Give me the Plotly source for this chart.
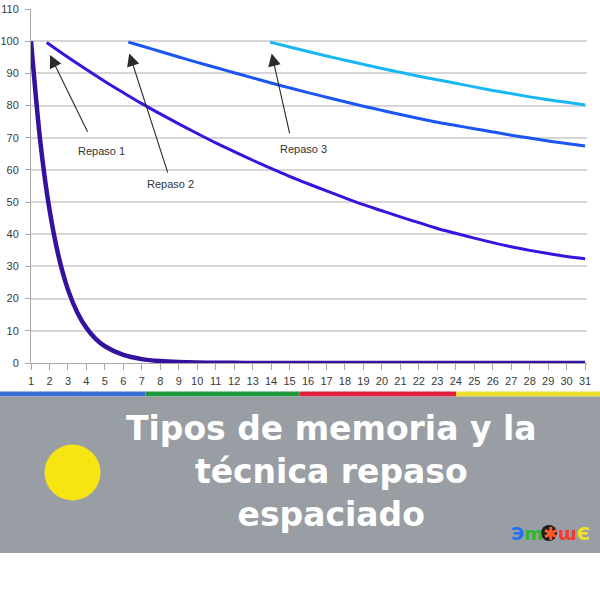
import plotly.graph_objects as go

# ---- data ----
x_base = [1, 1.5, 2, 2.5, 3, 3.5, 4, 4.5, 5, 6, 7, 8, 9, 10, 11, 12, 13, 14, 15, 16,
          17, 18, 19, 20, 21, 22, 23, 24, 25, 26, 27, 28, 29, 30, 31]
y_base = [100, 69, 47.7, 33, 22.8, 15.8, 10.9, 7.5, 5.2, 2.5, 1.2, 0.6, 0.3, 0.15, 0.08,
          0.04, 0.02, 0, 0, 0, 0, 0, 0, 0, 0, 0, 0, 0, 0, 0, 0, 0, 0, 0, 0]

x_rep1 = [1.85, 3, 4, 5, 6, 7, 8, 9, 10, 11, 12, 13, 14, 15, 16, 17, 18, 19, 20, 21,
          22, 23, 24, 25, 26, 27, 28, 29, 30, 31]
y_rep1 = [99.6, 95.0, 91.2, 87.5, 84.0, 80.6, 77.4, 74.3, 71.3, 68.4, 65.7, 63.0, 60.5,
          58.0, 55.7, 53.5, 51.3, 49.2, 47.3, 45.4, 43.6, 41.8, 40.3, 38.8, 37.4, 36.1,
          35.0, 34.0, 33.1, 32.4]

x_rep2 = [6.27, 7, 8, 9, 10, 11, 12, 13, 14, 15, 16, 17, 18, 19, 20, 21, 22, 23, 24,
          25, 26, 27, 28, 29, 30, 31]
y_rep2 = [99.7, 98.5, 96.8, 95.1, 93.4, 91.8, 90.2, 88.6, 87.0, 85.5, 84.0, 82.6, 81.2,
          79.8, 78.5, 77.2, 76.0, 74.8, 73.8, 72.8, 71.8, 70.8, 69.9, 69.0, 68.2, 67.4]

x_rep3 = [13.94, 15, 16, 17, 18, 19, 20, 21, 22, 23, 24, 25, 26, 27, 28, 29, 30, 31]
y_rep3 = [99.7, 98.2, 96.8, 95.4, 94.1, 92.8, 91.5, 90.3, 89.1, 88.0, 86.9, 85.8, 84.7,
          83.7, 82.7, 81.8, 81.0, 80.2]

x_ticks = list(range(1, 32))
y_ticks = list(range(0, 111, 10))

labels = ["Repaso 1", "Repaso 2", "Repaso 3"]
label_pos = [(4.83, 66.0), (8.53, 55.6), (15.74, 66.4)]
arrow_tail = [(4.1, 71.4), (8.43, 58.7), (15.02, 70.9)]
arrow_tip = [(2.03, 95.7), (6.32, 96.2), (14.03, 96.2)]

title_lines = ["Tipos de memoria y la", "técnica repaso", "espaciado"]
band_colors = ["#3a6ed6", "#1f9a3c", "#e2203e", "#efe030"]

# ---- layout helpers (pixel -> paper) ----
PX_L, PX_R, PX_T, PX_B = 31, 587, 9, 363
def xp(px):
    return (px - PX_L) / (PX_R - PX_L)
def yp(py):
    return (PX_B - py) / (PX_B - PX_T)

fig = go.Figure()
fig.add_trace(go.Scatter(x=x_base, y=y_base, mode="lines",
                         line=dict(color="#34119e", width=4.5, shape="spline", smoothing=0.8)))
fig.add_trace(go.Scatter(x=x_rep1, y=y_rep1, mode="lines",
                         line=dict(color="#3a12e0", width=3, shape="spline")))
fig.add_trace(go.Scatter(x=x_rep2, y=y_rep2, mode="lines",
                         line=dict(color="#1b55f3", width=3, shape="spline")))
fig.add_trace(go.Scatter(x=x_rep3, y=y_rep3, mode="lines",
                         line=dict(color="#19b6f5", width=3, shape="spline")))

tickfont = dict(family="Liberation Sans, Arial, sans-serif", size=11, color="#3a3a3a")
fig.update_xaxes(range=[1, 1 + (PX_R - PX_L) / 18.47], tickvals=x_ticks,
                 ticktext=[str(v) for v in x_ticks], showgrid=False, zeroline=False,
                 showline=True, linecolor="#a8a8a8", linewidth=1,
                 ticks="outside", ticklen=6, tickcolor="#a8a8a8", tickfont=tickfont,
                 ticklabelstandoff=2, automargin=False, fixedrange=True)
fig.update_yaxes(range=[0, 110], tickvals=y_ticks, showgrid=True, gridcolor="#d6d6d6",
                 gridwidth=1.5, zeroline=False, showline=True, linecolor="#a8a8a8",
                 linewidth=1, ticks="outside", ticklen=5, tickcolor="#a8a8a8",
                 tickfont=tickfont, ticklabelstandoff=4, automargin=False, fixedrange=True)

shapes = []
# colour band under the axis
bounds = [0, 145.4, 299.7, 456.2, 600]
for i, c in enumerate(band_colors):
    shapes.append(dict(type="rect", xref="paper", yref="paper",
                       x0=xp(bounds[i]), x1=xp(bounds[i + 1]), y0=yp(396.5), y1=yp(391.5),
                       fillcolor=c, line=dict(width=0), layer="above"))
# grey banner
shapes.append(dict(type="rect", xref="paper", yref="paper", x0=xp(0), x1=xp(600),
                   y0=yp(553), y1=yp(396.5), fillcolor="#999ea4", line=dict(width=0)))
# yellow circle
shapes.append(dict(type="circle", xref="paper", yref="paper", x0=xp(44.5), x1=xp(100.5),
                   y0=yp(500.5), y1=yp(444.5), fillcolor="#f6e512", line=dict(width=0)))
# logo circle
shapes.append(dict(type="circle", xref="paper", yref="paper", x0=xp(541), x1=xp(557),
                   y0=yp(541), y1=yp(525), fillcolor="#1c1c1c", line=dict(width=0)))
fig.update_layout(shapes=shapes)

ann = []
for (tx, ty), (hx, hy) in zip(arrow_tail, arrow_tip):
    ann.append(dict(x=hx, y=hy, ax=tx, ay=ty, xref="x", yref="y", axref="x", ayref="y",
                    text="", showarrow=True, arrowhead=2, arrowsize=2.3, arrowwidth=1.1,
                    arrowcolor="#2a2a2a"))
for lab, (lx, ly) in zip(labels, label_pos):
    ann.append(dict(x=lx, y=ly, xref="x", yref="y", text=lab, showarrow=False,
                    font=dict(family="Liberation Sans, Arial, sans-serif", size=11,
                              color="#333333")))
ann.append(dict(x=xp(331.5), y=yp(471), xref="paper", yref="paper",
                text="<br>".join(title_lines), showarrow=False,
                xanchor="center", yanchor="middle", align="center",
                font=dict(family="DejaVu Sans", size=33, color="white", weight=700)))
logo = ("<span style='color:#1f73f0'>Э</span><span style='color:#2fb52f'>m</span>"
        "<span style='color:#ff5a2a'>✱</span>"
        "<span style='color:#f23a2e'>ɯ</span><span style='color:#f2e21e'>Є</span>")
ann.append(dict(x=xp(550), y=yp(533), xref="paper", yref="paper", text=logo,
                showarrow=False, xanchor="center", yanchor="middle",
                font=dict(family="DejaVu Sans", size=18, weight=700)))
fig.update_layout(annotations=ann)

fig.update_layout(width=600, height=600, showlegend=False,
                  margin=dict(l=PX_L, r=600 - PX_R, t=PX_T, b=600 - PX_B),
                  paper_bgcolor="white", plot_bgcolor="white")

fig.write_html("out.html")
